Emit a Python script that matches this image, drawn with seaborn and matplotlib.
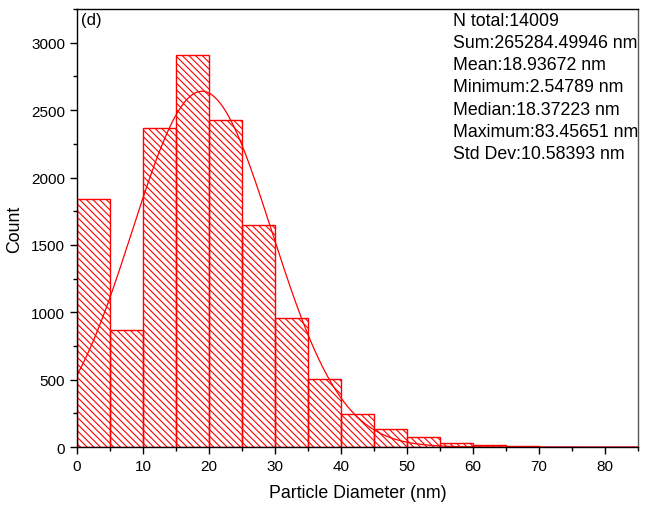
import numpy as np
import pandas as pd
import matplotlib
matplotlib.use("Agg")
import matplotlib.pyplot as plt
import seaborn as sns
from matplotlib.ticker import MultipleLocator

# ---- data ----
bin_edges = [0, 5, 10, 15, 20, 25, 30, 35, 40, 45, 50, 55, 60, 65, 70, 75, 80, 85]
counts = [1840, 870, 2370, 2910, 2425, 1645, 955, 503, 248, 131, 76, 28, 12, 8, 3, 2, 2]
n_total = 14009
mean_d = 18.93672
std_d = 10.58393
stat_lines = [
    "N total:14009",
    "Sum:265284.49946 nm",
    "Mean:18.93672 nm",
    "Minimum:2.54789 nm",
    "Median:18.37223 nm",
    "Maximum:83.45651 nm",
    "Std Dev:10.58393 nm",
]
panel_label = "(d)"
x_label = "Particle Diameter (nm)"
y_label = "Count"

sns.set_style("ticks")
plt.rcParams["font.family"] = ["Liberation Sans", "DejaVu Sans"]
plt.rcParams["hatch.linewidth"] = 0.8
plt.rcParams["hatch.color"] = "red"
for k in ["text.color", "axes.labelcolor", "xtick.color", "ytick.color",
          "xtick.labelcolor", "ytick.labelcolor"]:
    plt.rcParams[k] = "black"

fig = plt.figure(figsize=(6.49, 5.06), dpi=100)
ax = fig.add_axes([0.1186, 0.1146, 0.8644, 0.8654])

centers = [(a + b) / 2 for a, b in zip(bin_edges[:-1], bin_edges[1:])]
df = pd.DataFrame({"d": centers, "n": counts})
sns.histplot(data=df, x="d", weights="n", bins=bin_edges, ax=ax,
             facecolor="none", edgecolor="red", linewidth=1.0,
             hatch="\\\\\\\\\\", alpha=1)

# normal fit (Origin style) from reported statistics
binw = bin_edges[1] - bin_edges[0]
xs = np.linspace(0, 85, 400)
ys = n_total * binw * np.exp(-0.5 * ((xs - mean_d) / std_d) ** 2) / (std_d * np.sqrt(2 * np.pi))
sns.lineplot(x=xs, y=ys, ax=ax, color="red", linewidth=0.9)

ax.set_xlim(0, 85)
ax.set_ylim(0, 3250)
ax.xaxis.set_major_locator(MultipleLocator(10))
ax.xaxis.set_minor_locator(MultipleLocator(5))
ax.yaxis.set_major_locator(MultipleLocator(500))
ax.yaxis.set_minor_locator(MultipleLocator(250))
ax.tick_params(which="major", direction="out", length=5, width=1, labelsize=11,
               color="black", labelcolor="black")
ax.tick_params(which="minor", direction="out", length=3, width=1, color="black")
for s in ax.spines.values():
    s.set_visible(True)
    s.set_color("black")
    s.set_linewidth(1)
ax.spines["right"].set_color("#555555")

ax.set_xlabel(x_label, fontsize=12.8, labelpad=8, color="black")
ax.set_ylabel(y_label, fontsize=12.8, labelpad=6, color="black")

ax.text(0.008, 0.977, panel_label, transform=ax.transAxes, fontsize=12,
        ha="left", va="center", color="black")
line_step = 22.3 / 438
for i, s in enumerate(stat_lines):
    ax.text(0.670, 0.975 - i * line_step, s, transform=ax.transAxes,
            fontsize=12.8, ha="left", va="center", color="black")

fig.savefig("out.png", dpi=100)
